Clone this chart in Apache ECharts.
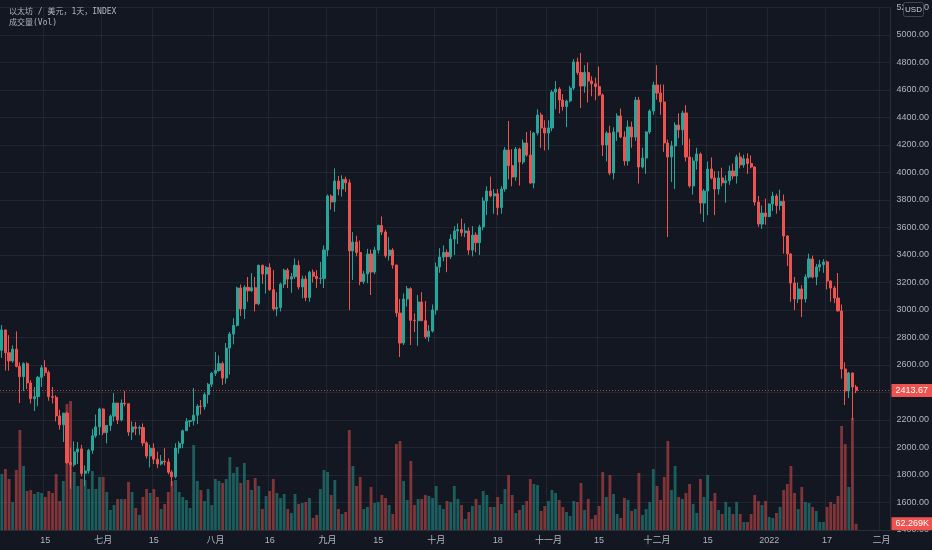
<!DOCTYPE html>
<html>
<head>
<meta charset="utf-8">
<title>以太坊 / 美元，1天</title>
<script src="https://cdn.jsdelivr.net/npm/echarts@6.0.0/dist/echarts.min.js"></script>
<style>
  html, body { margin: 0; padding: 0; background: #131722; }
  #main { width: 932px; height: 550px; }
</style>
</head>
<body>
<div id="main"></div>
<script>
// 日线 K 线，2021-06-03 开始，右侧留空到二月初
var startDate = '2021-06-03'
var totalDays = 246

var opens = [
  2707, 2855, 2689, 2630, 2715, 2590, 2515, 2610, 2470, 2355, 2370, 2510, 2580, 2545, 2370, 2365, 2230, 2165, 2250, 1890, 1875, 1968, 1990, 1812, 1830, 1980, 2085, 2150,
  2280, 2108, 2160, 2228, 2323, 2200, 2323, 2318, 2112, 2150, 2140, 2145, 2033, 1938, 1995, 1915, 1880, 1900, 1895, 1820, 1787, 1996, 2030, 2122, 2190, 2195, 2235, 2300, 2297, 2385, 2460,
  2540, 2560, 2610, 2505, 2723, 2825, 2888, 3160, 3008, 3165, 3140, 3162, 3045, 3325, 3262, 3310, 3148, 3008, 3018, 3188, 3290, 3225, 3242, 3325, 3168, 3225, 3090, 3275, 3245, 3228, 3230,
  3436, 3829, 3786, 3938, 3880, 3950, 3925, 3430, 3494, 3418, 3207, 3262, 3407, 3276, 3436, 3615, 3567, 3395, 3436, 3327, 2978, 2760, 3080, 3155, 2925, 2922, 3058, 2922, 2805, 2847,
  3000, 3313, 3385, 3418, 3388, 3516, 3575, 3585, 3562, 3575, 3436, 3545, 3490, 3604, 3793, 3865, 3830, 3845, 3745, 3880, 4163, 4050, 3967, 4171, 4076, 4215, 4127, 3923, 4287, 4418, 4324,
  4287, 4324, 4585, 4607, 4527, 4480, 4520, 4614, 4804, 4727, 4629, 4727, 4665, 4645, 4625, 4564, 4200, 4287, 3996, 4295, 4411, 4258, 4084, 4331, 4258, 4527, 4040, 4105, 4295, 4447,
  4636, 4578, 4513, 4215, 4113, 4193, 4345, 4310, 4433, 4113, 3902, 4084, 4135, 3778, 3865, 4025, 3960, 3880, 3960, 3925, 3940, 4011, 3975, 4113, 4055, 4100, 4066, 4040, 3785, 3625, 3705,
  3680, 3771, 3829, 3760, 3790, 3538, 3407, 3196, 3080, 3153, 3080, 3240, 3371, 3240, 3313, 3330, 3350, 3211, 3160, 3087, 2993, 2571, 2411, 2542, 2440
]
var highs = [
  2891, 2857, 2817, 2743, 2845, 2620, 2620, 2620, 2490, 2440, 2520, 2600, 2635, 2560, 2440, 2380, 2275, 2250, 2260, 2000, 2045, 2040, 2020, 1870, 1990, 2135, 2240, 2290,
  2285, 2165, 2240, 2395, 2325, 2350, 2411, 2320, 2190, 2185, 2160, 2175, 2045, 2020, 2030, 1970, 1945, 1995, 1920, 1835, 2030, 2045, 2130, 2215, 2200, 2433, 2315, 2345, 2400, 2470, 2550,
  2694, 2670, 2625, 2760, 2840, 2940, 3170, 3185, 3180, 3240, 3268, 3240, 3330, 3330, 3320, 3340, 3290, 3130, 3200, 3300, 3305, 3270, 3375, 3360, 3250, 3250, 3285, 3295, 3290, 3350, 3470,
  3840, 3840, 4030, 3975, 3980, 3970, 3950, 3567, 3540, 3505, 3285, 3445, 3440, 3460, 3620, 3680, 3585, 3530, 3450, 3330, 3080, 3120, 3175, 3165, 2975, 3110, 3130, 3065, 2890, 3040,
  3345, 3450, 3470, 3440, 3550, 3610, 3630, 3665, 3630, 3600, 3610, 3565, 3620, 3820, 3900, 3970, 3880, 3880, 3900, 4185, 4375, 4170, 4185, 4180, 4240, 4295, 4305, 4295, 4460, 4435, 4380,
  4380, 4600, 4665, 4620, 4570, 4530, 4630, 4825, 4835, 4869, 4780, 4800, 4700, 4690, 4770, 4575, 4300, 4340, 4330, 4430, 4465, 4300, 4380, 4370, 4550, 4550, 4180, 4300, 4460, 4660,
  4780, 4640, 4640, 4240, 4230, 4365, 4430, 4450, 4490, 4245, 4110, 4180, 4145, 3880, 4080, 4110, 4010, 4010, 4035, 3980, 4050, 4065, 4130, 4145, 4130, 4140, 4125, 4045, 3830, 3760, 3810,
  3775, 3860, 3845, 3875, 3840, 3545, 3415, 3240, 3200, 3180, 3260, 3410, 3395, 3335, 3365, 3370, 3360, 3215, 3175, 3269, 3040, 2620, 2550, 2545, 2455
]
var lows = [
  2652, 2560, 2558, 2616, 2583, 2323, 2410, 2425, 2320, 2265, 2300, 2440, 2520, 2340, 2320, 2190, 2130, 2040, 1880, 1700, 1860, 1880, 1790, 1720, 1810, 1955, 2070, 2090,
  2090, 2030, 2120, 2190, 2170, 2190, 2300, 2085, 2055, 2090, 2090, 2010, 1920, 1855, 1880, 1850, 1870, 1870, 1805, 1720, 1775, 1955, 1995, 2120, 2150, 2160, 2170, 2240, 2275, 2320, 2440,
  2520, 2550, 2455, 2465, 2530, 2750, 2880, 2955, 2935, 3060, 3130, 2990, 3035, 3190, 3120, 3140, 2995, 2955, 2990, 3160, 3160, 3125, 3225, 3150, 3085, 3065, 3060, 3200, 3160, 3190, 3160,
  3390, 3730, 3715, 3835, 3825, 3860, 3000, 3218, 3390, 3180, 3190, 3195, 3109, 3260, 3410, 3545, 3380, 3360, 3300, 2950, 2658, 2745, 3025, 2745, 2840, 2740, 2920, 2790, 2770, 2836,
  2965, 3270, 3355, 3275, 3370, 3400, 3480, 3535, 3530, 3400, 3390, 3420, 3400, 3580, 3690, 3820, 3700, 3690, 3700, 3860, 3950, 3900, 3940, 3905, 4060, 4115, 3920, 3885, 4270, 4180, 4160,
  4165, 4300, 4460, 4430, 4450, 4330, 4510, 4600, 4710, 4469, 4580, 4510, 4555, 4525, 4555, 4120, 4080, 3980, 3950, 4230, 4250, 4050, 4050, 4180, 4230, 3920, 4030, 3990, 4280, 4420,
  4530, 4420, 4150, 3531, 3930, 3880, 4250, 4200, 4080, 3890, 3840, 4020, 3700, 3640, 3690, 3950, 3690, 3840, 3900, 3780, 3910, 3950, 3920, 4030, 4035, 3990, 4030, 3760, 3605, 3590, 3620,
  3675, 3720, 3700, 3725, 3410, 3320, 3060, 3000, 3050, 2949, 3055, 3230, 3230, 3180, 3280, 3270, 3150, 3060, 3050, 2990, 2500, 2309, 2360, 2200, 2395
]
var closes = [
  2855, 2689, 2630, 2715, 2590, 2515, 2610, 2470, 2355, 2370, 2510, 2580, 2545, 2370, 2365, 2230, 2165, 2250, 1890, 1875, 1968, 1990, 1812, 1830, 1980, 2085, 2150, 2280,
  2108, 2160, 2228, 2323, 2200, 2323, 2318, 2112, 2150, 2140, 2145, 2033, 1938, 1995, 1915, 1880, 1900, 1895, 1820, 1787, 1996, 2030, 2122, 2190, 2195, 2235, 2300, 2297, 2385, 2460, 2540,
  2560, 2610, 2505, 2723, 2825, 2888, 3160, 3008, 3165, 3140, 3162, 3045, 3325, 3262, 3310, 3148, 3008, 3018, 3188, 3290, 3225, 3242, 3325, 3168, 3225, 3090, 3275, 3245, 3228, 3230, 3436,
  3829, 3786, 3938, 3880, 3950, 3925, 3430, 3494, 3418, 3207, 3262, 3407, 3276, 3436, 3615, 3567, 3395, 3436, 3327, 2978, 2760, 3080, 3155, 2925, 2922, 3058, 2922, 2805, 2847, 3000,
  3313, 3385, 3418, 3388, 3516, 3575, 3585, 3562, 3575, 3436, 3545, 3490, 3604, 3793, 3865, 3830, 3845, 3745, 3880, 4163, 4050, 3967, 4171, 4076, 4215, 4127, 3923, 4287, 4418, 4324, 4287,
  4324, 4585, 4607, 4527, 4480, 4520, 4614, 4804, 4727, 4629, 4727, 4665, 4645, 4625, 4564, 4200, 4287, 3996, 4295, 4411, 4258, 4084, 4331, 4258, 4527, 4040, 4105, 4295, 4447, 4636,
  4578, 4513, 4215, 4113, 4193, 4345, 4310, 4433, 4113, 3902, 4084, 4135, 3778, 3865, 4025, 3960, 3880, 3960, 3925, 3940, 4011, 3975, 4113, 4055, 4100, 4066, 4040, 3785, 3625, 3705, 3680,
  3771, 3829, 3760, 3790, 3538, 3407, 3196, 3080, 3153, 3080, 3240, 3371, 3240, 3313, 3330, 3350, 3211, 3160, 3087, 2993, 2571, 2411, 2542, 2440, 2413.67
]
// 成交量，单位 K
var volumes = [
  560, 610, 510, 280, 600, 1000, 640, 390, 400, 360, 380, 370, 330, 390, 370, 560, 290, 490, 1260, 1290, 580, 440, 510, 500, 410, 590, 410, 530,
  530, 380, 200, 250, 310, 310, 310, 480, 380, 220, 150, 330, 410, 370, 410, 330, 210, 260, 380, 490, 500, 380, 330, 300, 220, 850, 490, 400, 290, 410, 250,
  510, 490, 470, 510, 730, 570, 630, 470, 670, 500, 400, 520, 440, 210, 340, 390, 510, 370, 320, 360, 210, 170, 360, 260, 270, 280, 320, 120, 150, 410, 600,
  580, 350, 500, 210, 160, 180, 1000, 640, 440, 530, 210, 230, 430, 270, 280, 350, 320, 250, 160, 860, 890, 490, 300, 690, 250, 310, 310, 350, 340, 320,
  440, 250, 210, 290, 280, 440, 310, 250, 110, 180, 240, 310, 250, 390, 350, 230, 230, 330, 260, 410, 550, 350, 170, 200, 250, 290, 510, 460, 450, 190, 240,
  290, 400, 370, 300, 230, 180, 140, 290, 280, 470, 200, 310, 110, 150, 240, 580, 330, 550, 360, 160, 120, 320, 300, 190, 210, 570, 150, 210, 280, 610,
  440, 300, 530, 890, 400, 640, 330, 310, 370, 460, 260, 170, 510, 330, 550, 290, 370, 200, 160, 280, 230, 160, 280, 160, 80, 80, 160, 350, 290, 250, 290,
  130, 120, 170, 230, 400, 460, 640, 370, 210, 430, 280, 270, 230, 190, 80, 80, 230, 280, 260, 340, 1040, 860, 430, 1120, 62.269
]
var tickDates = ['2021-06-15', '2021-07-01', '2021-07-15', '2021-08-01', '2021-08-16', '2021-09-01', '2021-09-15', '2021-10-01',
  '2021-10-18', '2021-11-01', '2021-11-15', '2021-12-01', '2021-12-15', '2022-01-01', '2022-01-17', '2022-02-01']
var tickLabels = ['15', '七月', '15', '八月', '16', '九月', '15', '十月', '18', '十一月', '15', '十二月', '15', '2022', '17', '二月']

var upColor = '#26a69a'
var downColor = '#ef5350'
var textColor = '#b2b5be'
var gridColor = 'rgba(42,46,57,0.6)'
var monoFont = "'DejaVu Sans Mono', 'Noto Sans CJK SC', monospace"
var uiFont = "'Liberation Sans', 'Noto Sans CJK SC', sans-serif"

var dates = []
var t0 = new Date(startDate + 'T00:00:00Z').getTime()
for (var i = 0; i < totalDays; i++) {
  dates.push(new Date(t0 + i * 86400000).toISOString().slice(0, 10))
}

var candleData = opens.map(function (o, i) {
  return [o, closes[i], lows[i], highs[i]]
})
var volData = volumes.map(function (v, i) {
  return {
    value: v,
    itemStyle: { color: closes[i] >= opens[i] ? 'rgba(38,166,154,0.5)' : 'rgba(239,83,80,0.5)' }
  }
})
var lastClose = closes[closes.length - 1]
var lastVol = volumes[volumes.length - 1]

function isTick (idx, value) {
  return tickDates.indexOf(value) >= 0
}

var chart = echarts.init(document.getElementById('main'))
var option = {
  backgroundColor: '#131722',
  animation: false,
  title: {
    text: '以太坊 / 美元，1天，INDEX',
    subtext: '成交量(Vol)',
    left: 4,
    top: 3,
    itemGap: 3,
    textStyle: { color: textColor, fontSize: 8, fontWeight: 'normal', fontFamily: monoFont },
    subtextStyle: { color: textColor, fontSize: 8, fontFamily: monoFont }
  },
  grid: { left: 0, right: 41, top: 7.5, bottom: 20 },
  xAxis: {
    type: 'category',
    data: dates,
    boundaryGap: true,
    axisLine: { lineStyle: { color: '#2a2e39' } },
    axisTick: { show: false },
    axisLabel: {
      interval: isTick,
      formatter: function (value) {
        return tickLabels[tickDates.indexOf(value)]
      },
      color: textColor,
      fontSize: 9,
      margin: 6,
      fontFamily: uiFont
    },
    splitLine: { show: true, interval: isTick, lineStyle: { color: gridColor } }
  },
  yAxis: [
    {
      type: 'value',
      position: 'right',
      min: 1400,
      max: 5200,
      interval: 200,
      axisLine: { show: true, lineStyle: { color: '#2a2e39' } },
      axisTick: { show: false },
      axisLabel: {
        color: textColor,
        fontSize: 9,
        margin: 6,
        fontFamily: uiFont,
        formatter: function (v) { return v.toFixed(2) }
      },
      splitLine: { lineStyle: { color: gridColor } }
    },
    {
      type: 'value',
      min: 0,
      max: 5225,
      show: false,
      splitLine: { show: false }
    }
  ],
  series: [
    {
      name: '成交量',
      type: 'bar',
      yAxisIndex: 1,
      data: volData,
      barWidth: '78%',
      markLine: {
        silent: true,
        symbol: ['none', 'none'],
        lineStyle: { color: 'rgba(0,0,0,0)', width: 1, type: 'solid' },
        label: {
          position: 'end',
          distance: 1,
          formatter: lastVol.toFixed(3) + 'K',
          backgroundColor: downColor,
          color: '#fff',
          fontSize: 9,
          padding: [2, 4],
          fontFamily: uiFont
        },
        data: [{ yAxis: lastVol }]
      }
    },
    {
      name: '以太坊',
      type: 'candlestick',
      data: candleData,
      barWidth: '72%',
      itemStyle: {
        color: upColor,
        color0: downColor,
        borderColor: upColor,
        borderColor0: downColor,
        borderWidth: 1
      },
      markLine: {
        silent: true,
        symbol: ['none', 'none'],
        lineStyle: { color: 'rgba(239,83,80,0.75)', type: [1, 2], width: 1 },
        label: {
          position: 'end',
          distance: 1,
          formatter: lastClose.toFixed(2),
          backgroundColor: downColor,
          color: '#fff',
          fontSize: 9,
          padding: [2, 4],
          fontFamily: uiFont
        },
        data: [{ yAxis: lastClose }]
      }
    }
  ],
  graphic: [
    {
      type: 'group',
      left: 903,
      top: 2,
      z: 100,
      children: [
        { type: 'rect', shape: { x: 0, y: 0, width: 20, height: 14, r: 2 }, style: { fill: '#131722', stroke: '#434651', lineWidth: 1 }, z: 100 },
        { type: 'text', x: 10, y: 7, style: { text: 'USD', fill: '#d1d4dc', fontSize: 8, align: 'center', verticalAlign: 'middle', fontFamily: uiFont }, z: 101 }
      ]
    }
  ]
}
chart.setOption(option)
</script>
</body>
</html>
